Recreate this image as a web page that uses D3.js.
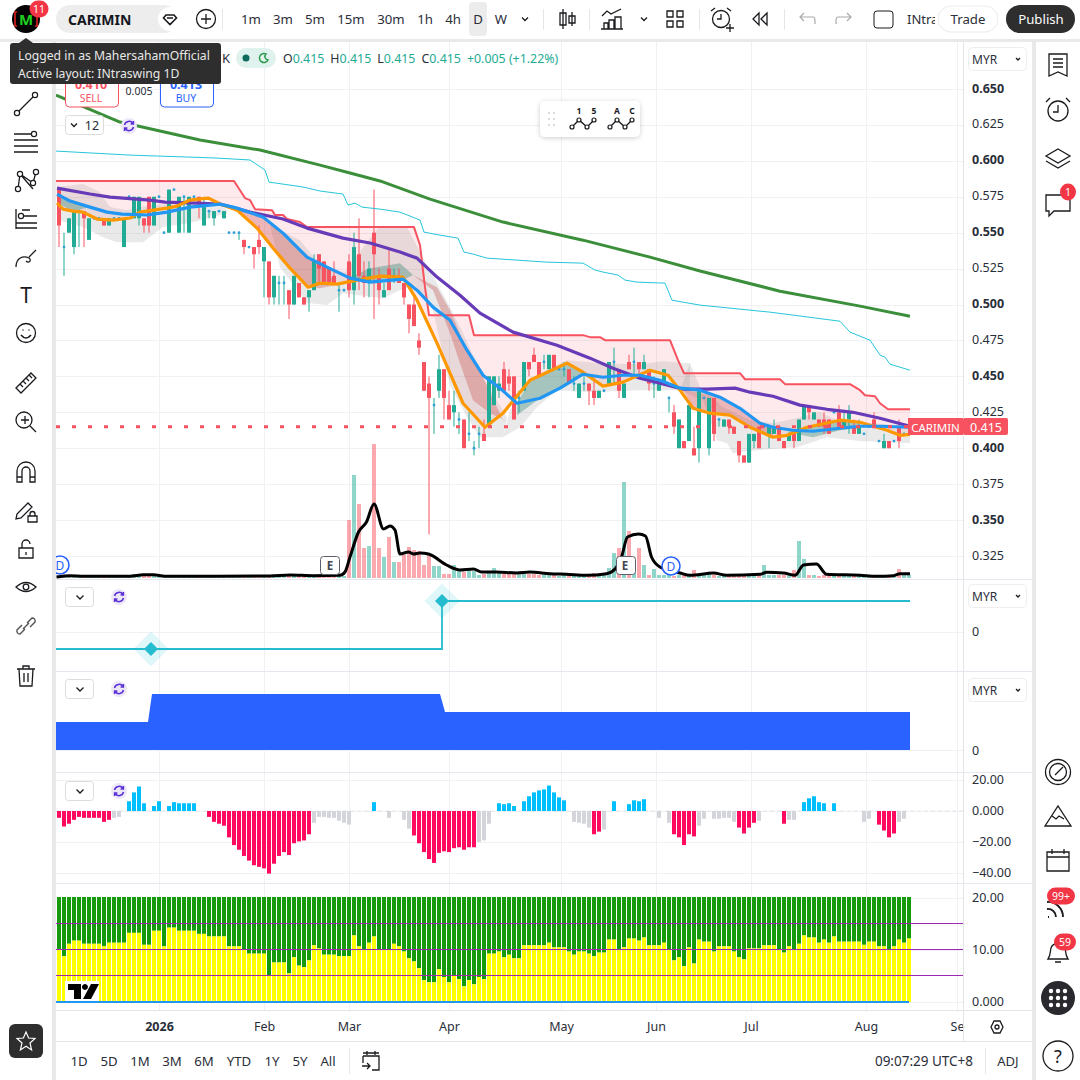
<!DOCTYPE html>
<html>
  <head>
    <title>CARIMIN</title>
    <script src="https://d3js.org/d3.v7.min.js"></script>
    <style>
      body { margin: 0; background: #fff; }
      text { font-family: "Noto Sans", sans-serif; }
      .tick line { display: none; }
    </style>
  </head>
  <body>
    <svg width="1080" height="1080" id="mainsvg"></svg>
    <script>
        // all prices are in thousandths of MYR (580 = 0.580); x is the bar number
        // candles: open, close, high, low
        const candles = [
          [580,555,580,540],[540,540,550,520],[550,560,560,550],[540,565,565,535],[565,565,565,540],
          [565,560,565,540],[545,560,560,545],[560,560,560,560],[560,560,560,560],[560,555,560,555],
          [555,560,560,555],[560,560,560,560],[560,560,560,560],[540,560,560,540],[575,575,575,575],
          [560,575,575,560],[560,575,575,555],[560,555,560,550],[575,555,575,550],[555,575,575,555],
          [575,575,575,575],[550,550,550,550],[550,580,580,550],[580,580,580,580],[550,575,575,550],
          [575,575,575,550],[550,575,575,550],[575,575,575,575],[575,570,575,560],[555,570,575,555],
          [565,565,565,560],[560,565,565,555],[565,565,565,565],[560,565,565,560],[550,550,550,550],
          [550,550,550,550],[550,550,550,545],[545,540,545,535],[540,540,540,540],[540,535,540,525],
          [545,540,555,535],[530,540,540,505],[530,505,530,500],[505,520,520,500],[515,515,520,500],
          [515,515,520,500],[510,500,510,490],[500,520,520,500],[515,505,515,505],[505,500,505,500],
          [505,510,510,495],[510,530,535,510],[535,525,535,515],[530,515,530,515],[525,515,525,515],
          [520,515,530,515],[510,510,515,495],[510,510,510,510],[530,510,535,505],[510,540,550,500],
          [535,520,560,510],[520,515,530,505],[515,525,530,505],[550,535,580,490],[520,510,525,500],
          [505,510,515,505],[525,510,540,510],[520,520,525,515],[520,515,525,515],[515,505,515,500],
          [500,490,500,480],[500,485,505,485],[475,470,480,465],[460,440,460,440],[445,435,450,340],
          [430,430,435,410],[440,455,465,435],[455,435,455,420],[430,420,440,420],[425,430,440,415],
          [420,420,425,410],[420,400,420,400],[410,410,425,405],[400,400,405,395],[410,410,415,400],
          [410,405,420,405],[415,450,450,415],[430,450,450,430],[440,445,450,435],[455,440,460,440],
          [450,445,455,440],[450,420,450,420],[435,435,440,425],[440,460,460,440],[460,455,460,450],
          [465,460,470,460],[460,450,460,450],[460,460,465,455],[455,465,465,455],[465,455,465,455],
          [455,455,455,455],[455,455,460,450],[455,445,455,445],[445,445,450,440],[435,445,445,435],
          [445,445,450,440],[445,440,445,430],[440,435,450,430],[435,440,440,435],[440,440,440,440],
          [445,460,460,445],[460,460,470,445],[455,440,455,435],[435,445,445,435],[460,455,465,455],
          [460,460,470,450],[460,455,460,450],[455,460,465,455],[455,445,455,440],[445,445,450,435],
          [440,445,445,440],[445,455,455,445],[435,435,435,425],[425,415,430,410],[400,420,420,400],
          [405,400,405,400],[405,430,430,405],[400,395,415,395],[400,440,440,390],[435,435,435,435],
          [400,435,435,395],[435,410,435,405],[420,420,420,415],[415,420,420,415],[420,415,420,410],
          [415,410,415,410],[405,395,405,390],[395,390,395,390],[390,410,410,390],[405,410,410,400],
          [415,400,415,400],[415,415,415,415],[410,415,415,400],[410,415,420,410],[415,405,415,405],
          [405,400,405,400],[405,410,410,405],[410,405,410,400],[405,420,420,405],[420,430,430,420],
          [430,425,430,420],[420,425,425,420],[420,415,420,415],[420,415,425,410],[420,410,420,410],
          [425,425,425,425],[425,415,430,415],[415,420,425,415],[420,425,430,410],[415,410,420,410],
          [410,415,420,410],[410,410,410,410],[415,415,415,415],[420,415,425,415],[405,405,405,405],
          [400,405,410,400],[405,400,405,400],[405,405,405,405],[415,405,420,400],[410,410,410,410],
          [415,415,415,415]
        ];
        const volumes = [
          2,2,1,2,1,1,1,1,1,1, 1,1,1,1,2,4,2,2,2,2, 1,1,1,1,1,1,1,1,1,1,
          1,1,1,1,1,1,1,1,1,2, 2,2,3,2,3,3,2,2,2,3, 3,3,2,2,3,3,3,2,58,103,
          74,30,32,134,30,21,41,16,16,23, 31,28,27,13,23,12,12,4,4,13,
          9,6,9,7,3,4,6,10,5,4, 4,4,3,4,4,4,3,3,3,3, 2,3,3,3,2,3,3,5,3,4,
          10,25,30,96,47,19,30,13,3,9, 3,3,3,2,3,3,2,8,3,3, 4,3,2,3,3,2,3,2,3,3,
          3,13,3,3,3,3,3,8,37,19, 3,3,2,3,3,2,3,2,2,2, 3,2,2,2,2,2,3,2,9,3, 3
        ];
        const volumeMa = [[-0.5,1],[2.2,2.3],[4.9,1.7],[14.2,1.7],[16.9,3.3],[18.9,3.3],[21.2,1.7],[31.5,1.7],[42.2,2],[46.2,3],[50.9,2.3],[56.2,2.7],[57.2,6],[58.2,21],[59.9,46],[61.5,56],[63,74],[64.9,49],[66.2,52],[67.2,48],[68.2,24],[69.9,26],[70.9,24],[72.2,25],[73.9,24],[77.5,13],[80.2,8],[82.9,9],[84.5,6],[87.5,6],[91.5,5],[94.2,6],[98.2,4.3],[101.5,3.7],[105.5,2.7],[109.5,4.3],[111.2,9],[112.5,21],[113.7,41],[115.9,44],[117.3,42],[118.5,21],[120.2,11],[124.2,5],[126.2,2.7],[130.9,5],[133.5,2.7],[140.2,3.7],[141.5,5.7],[144.9,5],[147.2,2.7],[148.9,13],[151.5,14],[153.5,3.7],[160.2,2.7],[163.5,1.7],[166.9,2.3],[168.2,4.3],[170.2,4.3]];

        const greenMa = [[-0.6,645.8],[12.2,627],[28.2,614.5],[40.2,607.5],[52.2,597],[58.2,591.5],[64.2,586],[74.2,573.4],[88.8,557.4],[104.8,544.8],[118.2,533],[128.2,523.3],[144.2,509.3],[160.2,498.9],[170.2,491.9]];
        const cyanBand = [[-0.6,606.8],[14.2,604],[31.2,602],[38.2,600.6],[41.2,593.6],[42,585.2],[44.8,583.8],[48.8,581.8],[52.2,579],[56.8,576.9],[57.8,569.2],[59.2,570.6],[60.6,567.8],[64.2,566.4],[68.2,564.3],[72.2,558.8],[73,550.4],[76.2,548.3],[79.8,546.2],[81,536.5],[82.8,535.1],[85.6,532.3],[91.6,530.9],[97.6,529.5],[104.8,528.8],[107.2,524],[108.8,522.6],[111.8,520.5],[113.2,517],[115.6,515.6],[121.2,514.9],[122.6,503],[128.2,499.6],[134.2,497.5],[142.2,494.7],[156.2,488.4],[158.2,480.8],[162.2,475.2],[164.2,464.8],[165.2,463.4],[166.2,458.5],[170.2,454.3]];
        const redStop = [[-0.6,586],[35,586],[37.2,574.1],[38.2,572.7],[39.2,566.4],[42.6,565.7],[43.2,562.3],[44.8,562.3],[45.6,559.5],[48.2,557.4],[49.6,553.9],[71,553.9],[72.2,541.4],[73.2,512.1],[74,492.6],[82,492.6],[83,478.7],[104.8,478.7],[106.2,477.3],[108.2,477.3],[109.2,475.2],[122.2,475.2],[123.8,461.3],[125,452.2],[136.2,452.2],[137.2,448],[144.2,448],[145.2,444.6],[158.2,444.6],[160.2,440.4],[161.2,436.9],[163.2,436.2],[164.2,431.3],[165.8,427.1],[170.2,427.1]];
        const purpleMa = [[-0.4,581],[6.2,576.9],[10.2,574.8],[18.2,572.7],[21.2,571.3],[27.6,570.6],[32.2,569.9],[38.2,564.3],[44.8,559.5],[49.6,553.2],[56.8,546.2],[62.2,542.8],[68.2,536.5],[71.6,532.3],[75.6,519.1],[80.2,506.5],[84.2,494],[90.8,480.8],[99.6,471.7],[106.2,462.7],[110.8,455.7],[116.2,448.7],[120.2,445.3],[124.8,441.1],[129.6,441.1],[135.2,441.8],[138.2,439],[142.8,436.2],[148.2,430],[153.6,427.1],[158.8,425],[164.2,420.9],[170.2,415.3]];
        const blueMa = [[-0.4,576.9],[2.2,572],[6.2,567.8],[9.6,564.3],[12.6,562.9],[17.6,562.3],[21.6,564.3],[26.2,567.8],[32.2,569.9],[35.6,567.1],[40.8,560.9],[44.8,549.7],[49.6,533],[53.6,526],[58.2,518.4],[62.2,515.6],[68.8,517.7],[71.6,510],[74.8,498.2],[78.2,489.1],[81.6,468.2],[84.8,450.8],[88.2,441.8],[91.6,431.3],[96.2,434.8],[100.2,441.8],[104.8,451.5],[108.8,449.4],[112.8,450.8],[116.2,450.8],[120.2,447.3],[124.2,441.8],[128.2,440.4],[132.2,435.5],[136.2,427.8],[140.2,417.4],[142.8,414.6],[146.8,412.5],[150.8,411.8],[156.2,413.9],[160.2,415.3],[164.2,415.3],[170.2,414.6]];
        const orangeMa = [[-0.4,570.6],[0.8,566.4],[2.8,565],[4.8,564.3],[7.6,559.5],[10.8,558.8],[14.2,560.2],[16.2,564.3],[21.6,567.1],[23.6,568.5],[26.2,572.7],[29.8,574.1],[32.8,569.2],[35.6,565.7],[39.6,553.2],[42.8,539.3],[46.2,525.3],[49.8,512.1],[52.2,514.9],[55.6,514.2],[59.6,517],[64.2,519.8],[68.8,519.1],[71.6,503.1],[75.6,473.1],[80.8,431.3],[85.2,414.6],[88.8,424.4],[94.2,447.3],[101.6,459.2],[104.8,452.9],[108.8,443.2],[112.8,446],[118.2,454.3],[121.8,450.8],[124.2,440.4],[126.8,427.8],[130.2,424.4],[134.2,423],[138.2,414.6],[142.8,407.7],[145.6,409],[149.6,414.6],[156.2,419.5],[160.2,418.1],[165.6,412.5],[168.2,409],[170.2,409.7]];

        // shaded clouds around the averages
        const greyClouds = [
          [[-0.4,581.8],[4.8,583.8],[8.2,578.3],[10.2,567.8],[13.6,565.7],[18.2,569.2],[32.2,570.6],[33.6,565.7],[33.6,563.6],[26.2,556.7],[20.8,553.9],[16.8,543.4],[11.6,543.4],[8.8,546.9],[4.8,553.9],[-0.4,558.8]],
          [[42.2,555.3],[48.2,544.8],[52.2,527.4],[57.2,522.6],[61.2,541.4],[63.8,553.2],[69.6,553.9],[72.2,536.5],[78.2,498.2],[80.8,480.1],[84.8,449.4],[89.6,421.6],[88.8,407.6],[84.2,407.6],[81.6,421.6],[78.2,443.9],[74.8,496.1],[71.2,513.5],[68.2,510],[64.8,504.4],[56.8,507.9],[53.6,499.6],[49.6,501],[44.2,526]],
          [[88.8,407.6],[92.2,414.6],[95.6,428.5],[99.6,440.4],[106.2,439],[116.2,440.4],[126.2,440.4],[126.2,459.2],[120.8,460.6],[116.2,458.5],[108.2,459.2],[101.6,461.3],[94.2,448.7],[90.2,426.4]],
          [[126.2,459.2],[128.2,442.5],[132.8,428.5],[138.2,419.5],[142.8,417.4],[148.2,421.6],[152.2,425],[155.6,419.5],[170.2,415.3],[170.2,403.5],[160.2,405.1],[153.6,407.7],[147.6,400.7],[139.6,398.6],[134.8,396.5],[133.6,403.5],[131.6,405.6],[128.8,433.4],[124.2,440.4]]
        ];
        const redRibbons = [
          [[35.6,565.7],[40.8,560.9],[44.8,549.7],[49.6,533],[53.6,526],[55.2,513.5],[52.2,511.4],[49.8,512.1],[46.2,525.3],[42.8,539.3],[39.6,553.2]],
          [[70.8,520.5],[75.6,512.1],[78.2,496.1],[81.6,468.2],[84.8,449.4],[88.8,419.5],[89.6,418.8],[86.2,424.4],[82.8,433.4],[80.2,459.2],[78.2,480.1],[74.8,510]],
          [[124.8,441.1],[132.2,435.5],[136.2,427.8],[140.2,417.4],[142.8,414.6],[142.8,407.7],[138.2,414.6],[134.2,423],[126.8,427.8]]
        ];
        const tealRibbons = [
          [[-0.4,576.9],[6.2,567.8],[2.8,565],[-0.4,570.6]],
          [[58.2,519],[62.2,525.3],[68.2,528.8],[70.8,520.5],[68.8,517],[62.2,516.3]],
          [[91.6,431.3],[94.2,447.3],[101.6,459.2],[104.8,452.9],[104.8,451.5],[100.2,441.8],[96.2,434.8],[91.6,423]],
          [[145.6,411.2],[149.6,414.6],[156.2,419.5],[160.2,417.4],[160.2,414],[156.2,412.5],[150.8,407.7]]
        ];

        const stepLine = [[-0.6,-0.34],[76.6,-0.34],[76.6,0.62],[170.2,0.62]];
        const stepMarks = [[18.4,-0.34],[76.6,0.62]];
        const blueBlock = [[-0.6,28],[17.8,28],[18.6,56],[76.2,56],[77.2,38],[170.2,38]];

        const histogram = [
          -4.4,-10,-8.2,-5.7,-3.8,-4.4,-4.4,-4.4,-4.4,-7, -5.7,-4.4,-3.8,0,6.3,12,15.8,5,0,3.2,
          6.3,0,3.2,5.7,5,5,5,5,0,0, -3.8,-7,-8.2,-9.5,-17,-22,-25,-29,-32,-35,
          -36,-37,-40.4,-34,-29,-26.5,-28.4,-20.8,-19.6,-19, -15,-7.6,-3.8,-3.8,-4.4,-4.4,-6.3,-7.6,-8.8,0,
          0,0,0,5.7,0,0,-4.4,0,0,-5.7, -11.4,-15.8,-20.8,-26.5,-31,-33.5,-27,-26,-26.5,-24,
          -23.4,-25,-23.4,-23.4,-20,-19,-8.2,0,5,4.4, 5,3.2,0,6.3,9.5,12,13.3,13.9,16.4,12,
          8.8,6.9,0,-7,-7.6,-8.2,-10.7,-15,-13.3,-12, 0,6.3,0,0,4.4,6.9,6.3,7.6,0,0,
          -4.4,0,-7.6,-15,-17,-22,-15,-16.4,-9.5,-5, 0,-5,-5,-4.4,-4.4,-7,-10.7,-14.5,-10.7,-7.6,
          -6.3,0,0,0,0,-8.2,-5.7,-5.7,0,5.7, 8.2,9.5,5.7,5,0,5,0,0,0,0,
          0,-7,-5,0,-8.8,-12.6,-17,-14.5,-7,-5, 0
        ];
        const histGrey = [11,12,51,52,53,54,55,56,57,58,66,69,70,84,85,86,103,104,105,106,109,120,122,128,129,131,132,133,134,135,140,146,147,161,162,168,169];

        const yellowBars = [
          10.2,8.8,11.2,11.8,11.8,11.2,11.2,11.2,11.2,10.7, 11.4,11.4,11.4,11.4,13.3,13.3,13.3,11,11,13.7,
          13.7,10.7,14.3,14.3,13.7,13.7,13.7,13.7,13.1,13.1, 12.6,12.6,12.6,12.6,10.7,10.7,10.7,10.1,9.3,9.3,
          9.3,9.3,5.1,7.6,7.6,7.6,5.5,8.6,7,6.7, 8,10.9,10.3,9.1,9.1,9.1,8.8,8.8,8.8,12.8,
          10.7,10.1,11.4,12.6,10.1,10.1,10.1,11.2,10.7,9.7, 8.4,7.8,6.5,4.2,3.8,3.8,6.3,4.8,3.8,5,
          4.4,3,4.2,3.4,4.8,4.4,9.3,9.3,9.7,8.6, 9.1,8.4,8.4,10.9,10.9,10.9,10.9,10.9,11.4,10.5,
          10.5,10.5,9.7,9.1,9.7,9.7,9.3,8.8,9.5,9.5, 12,12,10.1,10.5,12.2,12.2,11.8,12.4,10.9,10.9,
          10.9,11.4,10.1,8,8.6,6.9,10.5,7.4,12,11.6, 11.6,9.7,10.7,10.7,10.7,9.7,8.6,8.2,10.3,10.3,
          10.3,10.9,10.9,10.9,10.1,9.5,10.7,10.1,11.2,12.8, 12.4,12.4,11.4,12,11.4,12.6,11.6,11.6,11.6,11.6,
          11.6,11,11.6,11.6,10.7,10.7,10.1,10.7,12,11.4, 12.2
        ];
        const purpleLevels = [15, 10, 5];

        const priceTicks = [650,625,600,575,550,525,500,475,450,425,400,375,350,325];
        const histTicks = [20,0,-20,-40];
        const yellowTicks = [20,10,0];
        const monthBars = [20,41,58,78,100.4,119.4,138.4,161.4,179.6];
        const monthLabels = ['2026','Feb','Mar','Apr','May','Jun','Jul','Aug','Se'];
        const intervals = [['1m',251],['3m',283],['5m',315],['15m',351],['30m',391],['1h',425],['4h',453],['D',478],['W',501]];
        const ranges = [['1D',79],['5D',109],['1M',140],['3M',172],['6M',204],['YTD',239],['1Y',272],['5Y',300],['All',328]];

        const svg = d3.select('#mainsvg');
        const upColor = '#22ab94', downColor = '#f7525f';

        // scales: one shared time scale, each pane has its own value scale
        const x = d3.scaleLinear().domain([0, 170]).range([59, 909]);
        const yPrice = d3.scaleLinear().domain([650, 325]).range([89, 556]);
        const yVol = d3.scaleLinear().domain([0, 134]).range([578, 444]);
        const yStep = d3.scaleLinear().domain([0, 1]).range([632, 582]);
        const yBlock = d3.scaleLinear().domain([0, 56]).range([750, 694]);
        const yHist = d3.scaleLinear().domain([20, -40]).range([780, 873]);
        const yYellow = d3.scaleLinear().domain([20, 0]).range([898, 1002]);

        const priceLine = d3.line().x(d => x(d[0])).y(d => yPrice(d[1]));
        const barW = 4;

        const defs = svg.append('defs');
        defs.append('clipPath').attr('id', 'clipMain').append('rect').attr('x', 56).attr('y', 42).attr('width', 907).attr('height', 537);
        const shadow = defs.append('filter').attr('id', 'soft').attr('x', '-20%').attr('y', '-30%').attr('width', '140%').attr('height', '160%');
        shadow.append('feDropShadow').attr('dx', 0).attr('dy', 1).attr('stdDeviation', 2.5).attr('flood-opacity', 0.2);

        // grid
        const grid = svg.append('g').attr('stroke', '#f0f1f4').attr('stroke-width', 1);
        const hGrid = (ticks, y) => grid.append('g').selectAll('line').data(ticks).join('line')
          .attr('x1', 56).attr('x2', 963).attr('y1', d => Math.round(y(d)) + 0.5).attr('y2', d => Math.round(y(d)) + 0.5);
        hGrid(priceTicks, yPrice);
        hGrid([0], yStep);
        hGrid([0], yBlock);
        hGrid(histTicks, yHist);
        hGrid(yellowTicks, yYellow);
        grid.append('g').selectAll('line').data(monthBars).join('line')
          .attr('x1', d => Math.round(x(d)) + 0.5).attr('x2', d => Math.round(x(d)) + 0.5).attr('y1', 42).attr('y2', 1010);

        // main pane
        const main = svg.append('g').attr('clip-path', 'url(#clipMain)');
        main.append('path').attr('fill', downColor).attr('fill-opacity', 0.12)
          .attr('d', priceLine(redStop.concat(orangeMa.slice().reverse())) + 'Z');
        const clouds = (list, color, op) => main.append('g').selectAll('path').data(list).join('path')
          .attr('fill', color).attr('fill-opacity', op).attr('d', d => priceLine(d) + 'Z');
        clouds(greyClouds, '#8f8f8f', 0.2);
        clouds(redRibbons, '#c23a3a', 0.3);
        clouds(tealRibbons, '#1f7a68', 0.33);

        // volume
        main.append('g').selectAll('rect').data(volumes).join('rect')
          .attr('x', (d, i) => x(i) - barW / 2).attr('width', barW)
          .attr('y', d => yVol(d)).attr('height', d => yVol(0) - yVol(d))
          .attr('fill', (d, i) => candles[i][1] < candles[i][0] ? downColor : upColor)
          .attr('fill-opacity', 0.5);

        // candles
        const candleG = main.append('g');
        candleG.selectAll('line').data(candles).join('line')
          .attr('x1', (d, i) => x(i)).attr('x2', (d, i) => x(i))
          .attr('y1', d => yPrice(d[2])).attr('y2', d => yPrice(d[3]))
          .attr('stroke', d => d[1] < d[0] ? downColor : upColor).attr('stroke-width', 1);
        candleG.selectAll('rect.body').data(candles.filter(d => d[0] !== d[1])).join('rect').attr('class', 'body')
          .attr('x', d => x(candles.indexOf(d)) - barW / 2).attr('width', barW)
          .attr('y', d => yPrice(Math.max(d[0], d[1])))
          .attr('height', d => yPrice(Math.min(d[0], d[1])) - yPrice(Math.max(d[0], d[1])))
          .attr('fill', d => d[1] < d[0] ? downColor : upColor);
        // unchanged days show as a small blue dot
        candleG.selectAll('circle').data(candles.map((d, i) => [i, d]).filter(d => d[1][0] === d[1][1])).join('circle')
          .attr('cx', d => x(d[0])).attr('cy', d => yPrice(d[1][0])).attr('r', 1.4).attr('fill', '#2f9fd8');

        const trace = (data, color, w) => main.append('path').attr('d', priceLine(data)).attr('fill', 'none')
          .attr('stroke', color).attr('stroke-width', w).attr('stroke-linejoin', 'round');
        trace(cyanBand, '#26c6da', 1);
        trace(redStop, '#f7525f', 2);
        trace(greenMa, '#3b8f3a', 3);
        trace(purpleMa, '#673ab7', 3.2);
        trace(orangeMa, '#ff9800', 3.2);
        trace(blueMa, '#2196f3', 3.2);

        // last price line
        main.append('line').attr('x1', 56).attr('x2', 908).attr('y1', yPrice(415)).attr('y2', yPrice(415))
          .attr('stroke', downColor).attr('stroke-width', 3).attr('stroke-dasharray', '4 12');

        // volume average on top
        main.append('path').attr('fill', 'none').attr('stroke', '#000').attr('stroke-width', 3).attr('stroke-linejoin', 'round')
          .attr('d', d3.line().x(d => x(d[0])).y(d => yVol(d[1])).curve(d3.curveMonotoneX)(volumeMa));

        // step pane
        const stepG = svg.append('g');
        stepG.selectAll('path.halo').data(stepMarks).join('path').attr('class', 'halo')
          .attr('transform', d => `translate(${x(d[0])},${yStep(d[1])})`)
          .attr('d', d3.symbol(d3.symbolDiamond2, 780)).attr('fill', '#26c6da').attr('fill-opacity', 0.15);
        stepG.append('path').attr('fill', 'none').attr('stroke', '#26bccf').attr('stroke-width', 1.8)
          .attr('d', d3.line().x(d => x(d[0])).y(d => yStep(d[1]))(stepLine));
        stepG.selectAll('path.mark').data(stepMarks).join('path').attr('class', 'mark')
          .attr('transform', d => `translate(${x(d[0])},${yStep(d[1])})`)
          .attr('d', d3.symbol(d3.symbolDiamond2, 125)).attr('fill', '#26bccf');

        // solid blue block pane
        svg.append('path').attr('fill', '#2962ff')
          .attr('d', d3.area().x(d => x(d[0])).y0(yBlock(0)).y1(d => yBlock(d[1]))(blueBlock));

        // histogram pane
        svg.append('line').attr('x1', 56).attr('x2', 963).attr('y1', yHist(0)).attr('y2', yHist(0))
          .attr('stroke', '#e4e6ec').attr('stroke-dasharray', '4 3');
        svg.append('g').selectAll('rect').data(histogram).join('rect')
          .attr('x', (d, i) => x(i) - barW / 2).attr('width', barW)
          .attr('y', d => yHist(Math.max(d, 0))).attr('height', d => Math.abs(yHist(d) - yHist(0)))
          .attr('fill', (d, i) => d > 0 ? '#00bfff' : histGrey.includes(i) ? '#d3d5db' : '#ff0a5f');

        // green over yellow pane
        const stack = svg.append('g');
        stack.selectAll('rect.top').data(yellowBars).join('rect').attr('class', 'top')
          .attr('x', (d, i) => x(i) - barW / 2).attr('width', barW)
          .attr('y', yYellow(20) - 1).attr('height', d => yYellow(d) - yYellow(20) + 1).attr('fill', '#159a0b');
        stack.selectAll('rect.low').data(yellowBars).join('rect').attr('class', 'low')
          .attr('x', (d, i) => x(i) - barW / 2).attr('width', barW)
          .attr('y', d => yYellow(d)).attr('height', d => yYellow(0) - yYellow(d)).attr('fill', '#ffff00');
        stack.selectAll('line').data(purpleLevels).join('line')
          .attr('x1', 56).attr('x2', 963).attr('y1', d => Math.round(yYellow(d)) - 0.5).attr('y2', d => Math.round(yYellow(d)) - 0.5)
          .attr('stroke', '#9c27b0').attr('stroke-width', 1);
        stack.append('line').attr('x1', 56).attr('x2', x(170)).attr('y1', yYellow(0)).attr('y2', yYellow(0))
          .attr('stroke', '#2196f3').attr('stroke-width', 2);

        // axes
        const styleAxis = (g, size) => {
          g.select('.domain').remove();
          g.selectAll('text').attr('font-size', size).attr('fill', '#2a2e39').attr('font-family', '"Noto Sans"').attr('text-anchor', 'start');
        };
        const priceAxis = svg.append('g').attr('transform', 'translate(972,-1)')
          .call(d3.axisRight(yPrice).tickValues(priceTicks).tickSize(0).tickPadding(0).tickFormat(d => (d / 1000).toFixed(3)));
        styleAxis(priceAxis, 12.5);
        priceAxis.selectAll('text').attr('font-weight', d => d % 50 === 0 ? 700 : 400);
        const fmt = d => d === 0 ? '0.000' : d < 0 ? '\u2212' + Math.abs(d).toFixed(2) : d.toFixed(2);
        styleAxis(svg.append('g').attr('transform', 'translate(972,-1)').call(d3.axisRight(yHist).tickValues(histTicks).tickSize(0).tickPadding(0).tickFormat(fmt)), 12.5);
        styleAxis(svg.append('g').attr('transform', 'translate(972,-1)').call(d3.axisRight(yYellow).tickValues(yellowTicks).tickSize(0).tickPadding(0).tickFormat(fmt)), 12.5);
        styleAxis(svg.append('g').attr('transform', 'translate(972,-1)').call(d3.axisRight(yStep).tickValues([0]).tickSize(0).tickPadding(0).tickFormat(() => '0')), 12.5);
        styleAxis(svg.append('g').attr('transform', 'translate(972,0)').call(d3.axisRight(yBlock).tickValues([0]).tickSize(0).tickPadding(0).tickFormat(() => '0')), 12.5);
        const timeAxis = svg.append('g').attr('transform', 'translate(0,1022)')
          .call(d3.axisBottom(x).tickValues(monthBars).tickSize(0).tickPadding(0).tickFormat((d, i) => monthLabels[i]));
        styleAxis(timeAxis, 12.5);
        timeAxis.selectAll('text').attr('text-anchor', 'middle').attr('font-weight', (d, i) => i === 0 ? 700 : 400);

        // chrome: helpers for text and icons
        const ui = svg.append('g');
        const label = (t, tx, ty, size, color, opt = {}) => ui.append('text').attr('x', tx).attr('y', ty).text(t)
          .attr('font-size', size).attr('fill', color).attr('dominant-baseline', 'central')
          .attr('text-anchor', opt.anchor || 'middle').attr('font-weight', opt.weight || 400);
        const box = (bx, by, w, h, r, fill, stroke) => ui.append('rect').attr('x', bx).attr('y', by).attr('width', w).attr('height', h)
          .attr('rx', r).attr('fill', fill || 'none').attr('stroke', stroke || 'none');
        const icon = (ix, iy, d, w = 1.3, color = '#1b1b1f') => ui.append('path').attr('transform', `translate(${ix},${iy})`).attr('d', d)
          .attr('fill', 'none').attr('stroke', color).attr('stroke-width', w);
        const ring = (cx, cy, r, w = 1.3, color = '#1b1b1f', fill = 'none') => ui.append('circle').attr('cx', cx).attr('cy', cy).attr('r', r)
          .attr('fill', fill).attr('stroke', color).attr('stroke-width', w);
        const badge = (cx, cy, t, w) => {
          box(cx - w / 2, cy - 8.5, w, 17, 8.5, '#f23645');
          label(t, cx, cy, 10.5, '#fff');
        };

        // frame bands
        ui.append('rect').attr('x', 0).attr('y', 0).attr('width', 1080).attr('height', 39).attr('fill', '#fff');
        ui.append('rect').attr('x', 0).attr('y', 39).attr('width', 1080).attr('height', 3).attr('fill', '#e9e9ea');
        ui.append('rect').attr('x', 0).attr('y', 42).attr('width', 52).attr('height', 1038).attr('fill', '#fff');
        ui.append('rect').attr('x', 52).attr('y', 42).attr('width', 4).attr('height', 1038).attr('fill', '#e9e9ea');
        ui.append('rect').attr('x', 1032).attr('y', 42).attr('width', 4).attr('height', 1038).attr('fill', '#e9e9ea');
        [579, 671, 772, 883].forEach(py => ui.append('line').attr('x1', 56).attr('x2', 1032).attr('y1', py + 0.5).attr('y2', py + 0.5).attr('stroke', '#e6e6ee'));
        [1010, 1041].forEach(py => ui.append('line').attr('x1', 56).attr('x2', 1032).attr('y1', py + 0.5).attr('y2', py + 0.5).attr('stroke', '#e4e4e6'));
        ui.append('line').attr('x1', 963.5).attr('x2', 963.5).attr('y1', 42).attr('y2', 1041).attr('stroke', '#e4e4e6');

        // top toolbar
        ring(26, 19, 14, 0, 'none', '#000');
        label('M', 26, 19, 15, '#1fd01f', {weight: 700});
        icon(26, 19, 'M-9 -7 H-11 V7 H-9 M9 -7 H11 V7 H9', 1.6, '#e02020');
        badge(39, 9, '11', 19);
        box(56, 5, 122, 28, 14, '#ededed');
        label('CARIMIN', 68, 19, 14, '#131722', {anchor: 'start', weight: 700});
        ring(170, 19, 12, 0, 'none', '#fff');
        icon(170, 19, 'M-4 -4 H4 L6.5 -1 L0 5.5 L-6.5 -1 Z M-3 -1 H3', 1.6);
        ring(206, 19, 9.5);
        icon(206, 19, 'M-5 0 H5 M0 -5 V5');
        box(469, 2, 18, 34, 4, '#ececec');
        intervals.forEach(d => label(d[0], d[1], 19, 13.2, '#2a2e39'));
        icon(525, 19, 'M-3 -1.5 L0 1.5 L3 -1.5');
        [222, 543, 589, 699, 784].forEach(sx => ui.append('line').attr('x1', sx + 0.5).attr('x2', sx + 0.5).attr('y1', 9).attr('y2', 30).attr('stroke', '#e6e6e6'));
        icon(567, 19, 'M-4 -10 V10 M-7 -6 H-1 V6 H-7 Z M5 -7 V7 M2 -3 H8 V4 H2 Z');
        icon(613, 19, 'M-11 -3 L-6 -8 L-2 -5 L8 -10 M-9 10 V4 H-5 V10 M-4 10 V1 H1 V10 M2 10 V-2 H8 V10 M-12 10 H10');
        icon(644, 19, 'M-3 -1.5 L0 1.5 L3 -1.5');
        icon(675, 19, 'M-8 -8 h6 v6 h-6 Z M2 -8 h6 v6 h-6 Z M-8 2 h6 v6 h-6 Z M2 2 h6 v6 h-6 Z');
        ring(721, 19, 8.5);
        icon(721, 19, 'M0 -5 V0 H-4 M-10 -8 L-6 -11 M10 -8 L6 -11 M5 9 H13 M9 5 V13');
        icon(761, 19, 'M-2 -6 L-8 0 L-2 6 Z M6 -6 L0 0 L6 6 Z');
        icon(807, 19, 'M-7 -2 H6 Q8 -2 8 2 V5 M-3 -6 L-7 -2 L-3 2', 1.2, '#aaa');
        icon(844, 19, 'M7 -2 H-6 Q-8 -2 -8 2 V5 M3 -6 L7 -2 L3 2', 1.2, '#aaa');
        box(874, 11, 19, 17, 3, 'none', '#1b1b1f');
        label('INtra', 907, 19, 13, '#2a2e39', {anchor: 'start'});
        box(935, 2, 4, 34, 0, '#fff');
        box(938, 6, 60, 26, 13, '#fff', '#ececec');
        label('Trade', 968, 19, 13.2, '#2a2e39');
        box(1006, 5, 69, 28, 14, '#2e2e2e');
        label('Publish', 1041, 19, 13.2, '#fff');

        // legend line
        box(236, 48, 40, 20, 10, '#dff2ee');
        ring(246, 58, 3.5, 0, 'none', '#0f6b5c');
        icon(264, 58, 'M2 -4 A4.5 4.5 0 1 0 4 2 A3.5 3.5 0 0 1 2 -4 Z', 1.5, '#2d9a4a');
        label('K', 222, 58, 13, '#2a2e39', {anchor: 'start'});
        const legend = ui.append('text').attr('x', 283).attr('y', 58).attr('dominant-baseline', 'central').attr('font-size', 12.4);
        [['O', '0.415'], ['H', '0.415'], ['L', '0.415'], ['C', '0.415']].forEach((d, i) => {
          legend.append('tspan').attr('dx', i ? 6 : 0).attr('fill', '#2a2e39').text(d[0]);
          legend.append('tspan').attr('fill', upColor).text(d[1]);
        });
        legend.append('tspan').attr('dx', 6).attr('fill', upColor).text('+0.005 (+1.22%)');

        // sell and buy
        box(65.5, 60, 53, 47, 4, '#fff', downColor);
        box(160.5, 60, 53, 47, 4, '#fff', '#2962ff');
        label('0.410', 91, 84, 12.5, downColor, {weight: 700});
        label('SELL', 91, 98, 10.5, downColor);
        label('0.005', 139, 91, 10.5, '#2a2e39');
        label('0.413', 186, 84, 12.5, '#2962ff', {weight: 700});
        label('BUY', 186, 98, 10.5, '#2962ff');

        // legend toggles
        const refresh = (cx, cy) => {
          ring(cx, cy, 8, 0, 'none', '#ece8f8');
          icon(cx, cy, 'M-4.5 -1 A4.7 4.7 0 0 1 4 -2.5 M4.5 1 A4.7 4.7 0 0 1 -4 2.5 M4.4 -5 V-2 H1.6 M-4.4 5 V2 H-1.6', 1.5, '#5b30d6');
        };
        box(65.5, 115.5, 38, 19, 3, '#fff', '#dcdcdc');
        icon(74, 125, 'M-3 -1.5 L0 1.5 L3 -1.5');
        label('12', 92, 125, 12.5, '#2a2e39');
        refresh(129, 126);
        [597, 689, 791].forEach(py => {
          box(65.5, py - 9.5, 28, 19, 3, '#fff', '#dcdcdc');
          icon(80, py, 'M-3.5 -1.5 L0 2 L3.5 -1.5');
          refresh(119, py);
        });
        [[968, 47], [968, 584], [968, 678]].forEach(d => {
          box(d[0] + 0.5, d[1] + 0.5, 58, 23, 4, '#fff', '#eeeeee');
          label('MYR', d[0] + 4, d[1] + 12, 12, '#2a2e39', {anchor: 'start'});
          icon(d[0] + 50, d[1] + 12, 'M-2 -1 L0 1 L2 -1');
        });

        // floating toolbox
        box(540, 101, 100, 36, 5, '#fff').attr('filter', 'url(#soft)');
        [[549, 113], [554, 113], [549, 119], [554, 119], [549, 125], [554, 125]].forEach(d => ring(d[0], d[1], 1, 0, 'none', '#cfcfd4'));
        [570, 608].forEach((ox, k) => {
          const pts = [[2, 127], [9, 120], [17, 127], [24, 120]];
          icon(ox, 0, 'M' + pts.map(p => p.join(' ')).join(' L'));
          pts.forEach(p => ring(ox + p[0], p[1], 2, 1.2, '#1b1b1f', '#fff'));
          label(['1', 'A'][k], ox + 9, 110, 8.5, '#1b1b1f', {weight: 700});
          label(['5', 'C'][k], ox + 24, 110, 8.5, '#1b1b1f', {weight: 700});
        });

        // price tag
        box(908, 418, 55, 17, 0, downColor);
        box(963, 418, 45, 17, 2, downColor);
        label('CARIMIN', 935.5, 427, 11.5, '#fff');
        label('0.415', 986, 427, 12.5, '#fff');

        // earnings and dividend badges
        box(320.5, 556.5, 19, 18, 3, '#fff', '#5d606b');
        label('E', 330, 565.5, 11.5, '#43464f', {weight: 700});
        box(616.5, 556.5, 19, 18, 3, '#fff', '#5d606b');
        label('E', 625, 565.5, 11.5, '#43464f', {weight: 700});
        ring(671, 566, 9, 1.6, '#2962ff', '#fff');
        label('D', 671, 566, 12, '#2962ff');
        ring(60, 565, 9, 1.6, '#2962ff', '#fff');
        label('D', 60, 565, 12, '#2962ff');
        box(52, 550, 4, 30, 0, '#e9e9ea');
        box(0, 550, 52, 30, 0, '#fff');

        // logo
        box(65, 981, 34, 20, 0, '#fff');
        ui.append('path').attr('transform', 'translate(68,984)').attr('fill', '#000')
          .attr('d', 'M0 0 H13 V15 H6 V6 H0 Z M17 0 A3 3 0 1 1 16.9 0 Z M23 0 H31 L23 15 H15 Z');

        // gear and bottom row
        icon(997, 1027, 'M-6 0 L-3 -6 H3 L6 0 L3 6 H-3 Z');
        ring(997, 1027, 2);
        ranges.forEach(d => label(d[0], d[1], 1061, 13.2, '#2a2e39'));
        ui.append('line').attr('x1', 349.5).attr('x2', 349.5).attr('y1', 1048).attr('y2', 1074).attr('stroke', '#e6e6e6');
        icon(371, 1061, 'M-8 -5 H8 V9 H1 M-8 -5 V2 M-8 -8 H8 M-4 -10 V-6 M4 -10 V-6 M-9 5 H-1 M-4 2 L-1 5 L-4 8');
        label('09:07:29 UTC+8', 924, 1061, 13.5, '#2a2e39');
        ui.append('line').attr('x1', 985.5).attr('x2', 985.5).attr('y1', 1048).attr('y2', 1074).attr('stroke', '#e6e6e6');
        label('ADJ', 1008, 1061, 13, '#2a2e39');

        // left toolbar
        const knob = (kx, ky) => ring(kx, ky, 2.6, 1.2, '#1b1b1f', '#fff');
        icon(26, 104, 'M-9 9 L9 -9'); knob(17, 113); knob(35, 95);
        icon(26, 143, 'M-12 -9 H9 M-12 -3 H12 M-12 3 H12 M-12 9 H12'); knob(34, 134);
        icon(26, 181, 'M-8 8 L-6 -7 L7 2 L10 -9 M-6 -7 L7 8'); [[18, 189], [20, 174], [33, 183], [36, 172]].forEach(d => knob(d[0], d[1]));
        icon(26, 219, 'M-10 -10 V10 M-10 4 H11 M-10 9 H11 M-4 -3 H11 M-4 -9 H4'); knob(21, 216);
        icon(26, 258, 'M-10 9 C-10 0 -3 -3 3 0 C6 2 3 6 0 3 M3 -1 L10 -8');
        label('T', 26, 295, 21, '#1b1b1f');
        ring(26, 333, 9.5); icon(26, 333, 'M-5 2 Q0 8 5 2 M-3.5 -3 h1 M2.5 -3 h1', 1.6);
        icon(26, 383, 'M-10 5 L5 -10 L10 -5 L-5 10 Z M-6 1 L-3 4 M-3 -2 L0 1 M0 -5 L3 -2 M3 -8 L6 -5');
        ring(24, 420, 8); icon(26, 421, 'M4 5 L10 11 M-5 -1 H3 M-1 -5 V3');
        icon(26, 472, 'M-9 10 V-1 A9 9 0 0 1 9 -1 V10 H4 V-1 A4 4 0 0 0 -4 -1 V10 Z M-9 5 H-4 M4 5 H9');
        icon(26, 511, 'M-10 8 L-9 3 L2 -8 L6 -4 L-5 7 Z M2 5 h9 v6 h-9 Z M4 5 V3 A2.5 2.5 0 0 1 9 3 V5');
        icon(26, 549, 'M-7 -1 H7 V9 H-7 Z M-4 -1 V-5 A4 4 0 0 1 4 -5 M0 3 V6');
        icon(26, 587, 'M-10 0 Q0 -9 10 0 Q0 9 -10 0 Z'); ring(26, 587, 2.8);
        icon(26, 626, 'M-1 3 L-6 8 A3 3 0 0 1 -9 4 L-4 -1 M1 -3 L6 -8 A3 3 0 0 1 9 -4 L4 1 M-3 3 L3 -3', 1.4, '#555');
        icon(26, 676, 'M-9 -7 H9 M-3 -7 V-10 H3 V-7 M-7 -7 L-6 10 H6 L7 -7 M-2 -3 V6 M2 -3 V6');
        box(9, 1024, 34, 34, 6, '#2e2e2e');
        icon(26, 1041, 'M0 -9 L2.6 -3 L9 -2.5 L4 2 L5.6 9 L0 5.3 L-5.6 9 L-4 2 L-9 -2.5 L-2.6 -3 Z', 1.2, '#fff');

        // dark tooltip above the left toolbar
        icon(26, 43, 'M-7 0 L0 -5 L7 0 Z', 0, 'none').attr('fill', '#2e2e2e');
        box(10, 43, 211, 41, 3, '#2e2e2e');
        label('Logged in as MahersahamOfficial', 18, 55, 12.2, '#e8e8e8', {anchor: 'start'});
        label('Active layout: INtraswing 1D', 18, 73, 12.2, '#e8e8e8', {anchor: 'start'});

        // right toolbar
        icon(1058, 65, 'M-9 -11 H9 V11 L0 7 L-9 11 Z M-5 -6 H5 M-5 -2 H5 M-5 2 H5');
        ring(1058, 111, 10); icon(1058, 111, 'M0 -6 V1 H-5 M-12 -9 L-8 -13 M12 -9 L8 -13');
        icon(1058, 158, 'M0 -9 L12 -2 L0 5 L-12 -2 Z M-12 3 L0 10 L12 3');
        icon(1058, 204, 'M-12 -9 H12 V7 H-4 L-9 12 V7 H-12 Z');
        badge(1068, 192, '1', 16);
        ring(1058, 772, 12.5); ring(1058, 772, 8.5); icon(1058, 772, 'M-3 3 L5 -5');
        icon(1058, 816, 'M-13 10 L0 -10 L13 10 Z M-6 0 L-2 3 L1 0 L6 3');
        icon(1058, 860, 'M-11 -8 H11 V11 H-11 Z M-11 -3 H11 M-6 -11 V-6 M6 -11 V-6');
        icon(1058, 906, 'M-10 11 h1 M-11 3 A8 8 0 0 1 -2 11 M-11 -4 A15 15 0 0 1 5 11', 1.8);
        badge(1061, 896, '99+', 28);
        icon(1058, 952, 'M-10 7 C-7 3 -8 -1 -7 -4 C-5 -10 5 -10 7 -4 C8 -1 7 3 10 7 Z M-3 10 H3');
        badge(1065, 942, '59', 22);
        ring(1058, 998, 17, 0, 'none', '#2a2a2e');
        d3.range(3).forEach(r => d3.range(3).forEach(c => ring(1051 + c * 7, 991 + r * 7, 2.2, 0, 'none', '#fff')));
        ring(1058, 1056, 15);
        label('?', 1058, 1056, 18, '#1b1b1f');
    </script>
  </body>
</html>
